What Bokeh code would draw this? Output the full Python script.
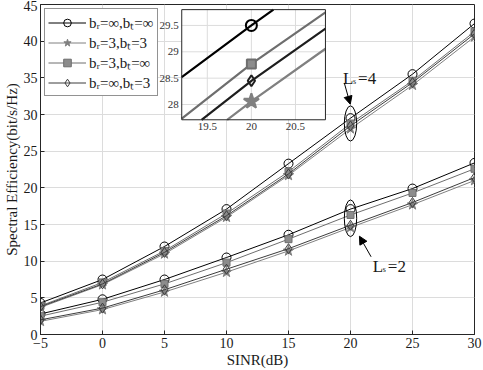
import math
from bokeh.plotting import figure
from bokeh.models import (Range1d, Legend, LegendItem, Arrow, NormalHead, FixedTicker)
from bokeh.core.properties import value
from bokeh.embed import file_html
from bokeh.resources import INLINE

# ---------------- data ----------------
sinr = [-5, 0, 5, 10, 15, 20, 25, 30]

# L_s = 4
se4_inf_inf = [4.3, 7.5, 12.0, 17.1, 23.3, 29.5, 35.5, 42.4]
se4_3_3 = [3.7, 6.8, 11.0, 16.0, 21.7, 28.06, 34.0, 40.6]
se4_3_inf = [3.9, 7.1, 11.4, 16.5, 22.2, 28.77, 34.6, 41.3]
se4_inf_3 = [3.8, 6.9, 11.2, 16.2, 21.9, 28.45, 34.35, 41.0]

# L_s = 2
se2_inf_inf = [2.8, 4.8, 7.5, 10.5, 13.6, 17.1, 19.9, 23.4]
se2_3_3 = [1.8, 3.4, 5.8, 8.5, 11.4, 14.6, 17.7, 21.0]
se2_3_inf = [2.5, 4.4, 6.9, 9.8, 13.0, 16.3, 19.3, 22.6]
se2_inf_3 = [2.0, 3.6, 6.1, 8.9, 11.7, 14.9, 18.0, 21.4]

labels = ["b\u1d63=\u221e,b\u209c=\u221e", "b\u1d63=3,b\u209c=3",
          "b\u1d63=3,b\u209c=\u221e", "b\u1d63=\u221e,b\u209c=3"]

x_ticks = [-5, 0, 5, 10, 15, 20, 25, 30]
y_ticks = [0, 5, 10, 15, 20, 25, 30, 35, 40, 45]
inset_x_ticks = [19.5, 20, 20.5]
inset_y_ticks = [28, 28.5, 29, 29.5]
inset_x_range = (19.21, 20.84)
inset_y_range = (27.71, 29.80)

# ---------------- styles ----------------
FONT = "Liberation Serif"
styles = [
    dict(marker="circle", color="#000000", fill=None, size=9),
    dict(marker="star", color="#808080", fill="#808080", size=11),
    dict(marker="square", color="#6e6e6e", fill="#8c8c8c", size=7),
    dict(marker="diamond", color="#3c3c3c", fill=None, size=10),
]
series4 = [se4_inf_inf, se4_3_3, se4_3_inf, se4_inf_3]
series2 = [se2_inf_inf, se2_3_3, se2_3_inf, se2_inf_3]

p = figure(width=483, height=370, x_range=Range1d(-5, 30), y_range=Range1d(0, 45),
           output_backend="svg", toolbar_location=None,
           min_border_left=0, min_border_right=9, min_border_top=4, min_border_bottom=0,
           background_fill_color="white", border_fill_color="white")

p.outline_line_color = "#262626"
p.outline_line_width = 1
p.grid.grid_line_color = "#dcdcdc"
p.xgrid.ticker = FixedTicker(ticks=x_ticks)
p.ygrid.ticker = FixedTicker(ticks=y_ticks)

for ax in (p.xaxis[0], p.yaxis[0]):
    ax.major_label_text_font = FONT
    ax.major_label_text_font_size = "14px"
    ax.major_label_text_color = "#1a1a1a"
    ax.axis_label_text_font = FONT
    ax.axis_label_text_font_size = "15px"
    ax.axis_label_text_font_style = "normal"
    ax.axis_label_text_color = "#1a1a1a"
    ax.major_tick_in = 4
    ax.major_tick_out = 0
    ax.minor_tick_in = 0
    ax.minor_tick_out = 0
    ax.axis_line_color = "#262626"
    ax.major_tick_line_color = "#262626"
    ax.major_label_standoff = 3
    ax.axis_label_standoff = 1
p.xaxis.ticker = FixedTicker(ticks=x_ticks)
p.yaxis.ticker = FixedTicker(ticks=y_ticks)
p.xaxis.axis_label = "SINR(dB)"
p.yaxis.axis_label = "Spectral Efficiency(bit/s/Hz)"

legend_items = []
for st, lab, s4, s2 in zip(styles, labels, series4, series2):
    rends = []
    for ys in (s4, s2):
        lr = p.line(sinr, ys, line_color=st["color"], line_width=1)
        sr = p.scatter(sinr, ys, marker=st["marker"], size=st["size"],
                       line_color=st["color"], fill_color=st["fill"], line_width=1)
        rends.append((lr, sr))
    legend_items.append(LegendItem(label=lab, renderers=[rends[0][0], rends[0][1]]))

legend = Legend(items=legend_items, location="top_left", margin=4, padding=3,
                spacing=0, label_standoff=3, glyph_width=38, glyph_height=19,
                label_height=19, label_text_font=FONT, label_text_font_size="15px",
                label_text_color="#1a1a1a", border_line_color="#262626",
                border_line_width=1, background_fill_color="white",
                background_fill_alpha=1.0)
p.add_layout(legend)

# ---------------- annotations ----------------
idx20 = sinr.index(20)
for group, h in ((series4, 4.8), (series2, 5.0)):
    vals = [s[idx20] for s in group]
    p.ellipse(x=[20], y=[(max(vals) + min(vals)) / 2], width=[1.0], height=[h],
              fill_color=None, line_color="black", line_width=1)

p.add_layout(Arrow(end=NormalHead(size=8, fill_color="black", line_color="black"),
                   x_start=19.5, y_start=34.3, x_end=19.98, y_end=31.4,
                   line_color="black", line_width=1))
p.add_layout(Arrow(end=NormalHead(size=8, fill_color="black", line_color="black"),
                   x_start=21.66, y_start=10.6, x_end=20.72, y_end=13.4,
                   line_color="black", line_width=1))

for (lx, ly, num) in ((19.4, 34.9, "=4"), (21.8, 9.3, "=2")):
    p.text(x=[lx], y=[ly], text=["L"], text_font=value(FONT), text_font_size="17px",
           text_baseline="alphabetic", text_align="left", text_color="#1a1a1a")
    p.text(x=[lx], y=[ly], text=["s"], text_font=value(FONT), text_font_size="8px",
           text_baseline="alphabetic", text_align="left", text_color="#1a1a1a",
           x_offset=10, y_offset=3)
    p.text(x=[lx], y=[ly], text=[num], text_font=value(FONT), text_font_size="17px",
           text_baseline="alphabetic", text_align="left", text_color="#1a1a1a",
           x_offset=15)

# ---------------- inset ----------------
ix0, ix1 = inset_x_range
iy0, iy1 = inset_y_range
sub = p.subplot(x_source=Range1d(ix0, ix1), y_source=Range1d(iy0, iy1),
                x_target=Range1d(6.39, 17.98), y_target=Range1d(29.28, 44.3))

sub.quad(left=[ix0], right=[ix1], bottom=[iy0], top=[iy1], fill_color="white",
         line_color=None)
sub.segment(x0=inset_x_ticks, y0=[iy0] * len(inset_x_ticks), x1=inset_x_ticks,
            y1=[iy1] * len(inset_x_ticks), line_color="#dcdcdc", line_width=1)
sub.segment(x0=[ix0] * len(inset_y_ticks), y0=inset_y_ticks, x1=[ix1] * len(inset_y_ticks),
            y1=inset_y_ticks, line_color="#dcdcdc", line_width=1)


def clip_line(xs, ys, x0, x1, y0, y1):
    ox, oy = [], []
    for i in range(len(xs) - 1):
        xa, ya, xb, yb = xs[i], ys[i], xs[i + 1], ys[i + 1]
        dx, dy = xb - xa, yb - ya
        t0, t1, ok = 0.0, 1.0, True
        for pp, q in ((-dx, xa - x0), (dx, x1 - xa), (-dy, ya - y0), (dy, y1 - ya)):
            if pp == 0:
                if q < 0:
                    ok = False
                    break
            else:
                r = q / pp
                if pp < 0:
                    t0 = max(t0, r)
                else:
                    t1 = min(t1, r)
        if ok and t0 < t1:
            sx, sy = xa + t0 * dx, ya + t0 * dy
            ex, ey = xa + t1 * dx, ya + t1 * dy
            if ox and not math.isnan(ox[-1]) and abs(ox[-1] - sx) < 1e-9 and abs(oy[-1] - sy) < 1e-9:
                ox.append(ex)
                oy.append(ey)
            else:
                if ox:
                    ox.append(float("nan"))
                    oy.append(float("nan"))
                ox += [sx, ex]
                oy += [sy, ey]
    return ox, oy


inset_sizes = [11, 16, 9, 11]
for st, s4, ms in zip(styles, series4, inset_sizes):
    col = st["color"] if st["marker"] != "diamond" else "#1e1e1e"
    cx, cy = clip_line(sinr, s4, ix0, ix1, iy0, iy1)
    sub.line(cx, cy, line_color=col, line_width=2.2)
    px = [x for x, y in zip(sinr, s4) if ix0 <= x <= ix1 and iy0 <= y <= iy1]
    py = [y for x, y in zip(sinr, s4) if ix0 <= x <= ix1 and iy0 <= y <= iy1]
    sub.scatter(px, py, marker=st["marker"], size=ms, line_color=col,
                fill_color=st["fill"], line_width=2)

sub.quad(left=[ix0], right=[ix1], bottom=[iy0], top=[iy1], fill_color=None,
         line_color="#262626", line_width=1)

sub.text(x=[ix0] * len(inset_y_ticks), y=inset_y_ticks,
         text=[("%g" % v) for v in inset_y_ticks], text_font=value(FONT),
         text_font_size="11px", text_align="right", text_baseline="middle",
         text_color="#333333", x_offset=-3)
sub.text(x=inset_x_ticks, y=[iy0] * len(inset_x_ticks),
         text=[("%g" % v) for v in inset_x_ticks], text_font=value(FONT),
         text_font_size="11px", text_align="center", text_baseline="top",
         text_color="#333333", y_offset=3)

open("out.html", "w").write(file_html(p, INLINE))
